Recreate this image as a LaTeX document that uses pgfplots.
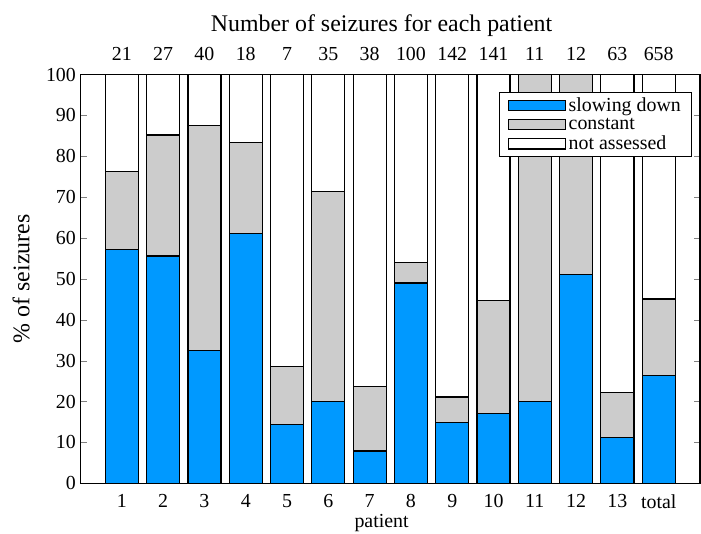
\documentclass[border=0pt]{standalone}
\usepackage{pgfplots}
\pgfplotsset{compat=1.18}
\usepackage{pgfplotstable}
\usepackage{fontspec}
\setmainfont{Liberation Serif}
\definecolor{cblue}{RGB}{0,153,255}
\definecolor{cgray}{RGB}{204,204,204}

\pgfplotstableread{
x slow const na
1  57.1 19.1 23.8
2  55.6 29.6 14.8
3  32.5 55.0 12.5
4  61.1 22.2 16.7
5  14.3 14.3 71.4
6  20.0 51.4 28.6
7  7.9  15.8 76.3
8  49.0 5.0  46.0
9  14.8 6.3  78.9
10 17.0 27.7 55.3
11 20.0 80.0 0.0
12 51.0 49.0 0.0
13 11.1 11.1 77.8
14 26.4 18.7 54.9
}\data

\begin{document}
\begin{tikzpicture}
\path[use as bounding box] (-60.75pt,-38.25pt) rectangle (468pt,364.5pt);
\begin{axis}[
  at={(0,0)}, anchor=south west,
  scale only axis, width=467.25pt, height=308.25pt,
  xmin=0, xmax=15, ymin=0, ymax=100,
  ybar stacked, bar width=0.8,
  xtick={1,...,14},
  xticklabels={1,2,3,4,5,6,7,8,9,10,11,12,13,total},
  ytick={0,10,...,100},
  ytick pos=both, yticklabel pos=left,
  x tick style={draw=none},
  major tick length=4.5pt,
  tick align=inside,
  axis line style={line width=0.8pt},
  /pgf/number format/assume math mode=true,
  tick label style={font=\fontsize{15}{17}\selectfont},
  xticklabel style={yshift=-5pt},
  xlabel={patient},
  ylabel={\% of seizures},
  xlabel style={font=\fontsize{15}{17}\selectfont, at={(axis description cs:0.486,-0.097)}, anchor=center},
  ylabel style={font=\fontsize{18}{20}\selectfont, at={(axis description cs:-0.096,0.5)}, anchor=center},
  legend style={at={(rel axis cs:0.987,0.958)}, anchor=north east, draw=black, line width=0.8pt,
    font=\fontsize{15}{16}\selectfont, row sep=-0.5pt, inner xsep=6pt, inner ysep=2pt},
  legend cell align=left,
  legend image code/.code={\draw[#1, line width=0.9pt] (0pt,-4pt) rectangle (43pt,4pt);},
  every axis plot/.append style={draw=black, line width=0.9pt},
]
\addplot[fill=cblue] table[x=x,y=slow]{\data};
\addplot[fill=cgray] table[x=x,y=const]{\data};
\addplot[fill=white] table[x=x,y=na]{\data};
\legend{slowing down, constant, not assessed}
\end{axis}
\begin{axis}[
  at={(0,0)}, anchor=south west,
  scale only axis, width=467.25pt, height=308.25pt,
  xmin=0, xmax=15, ymin=0, ymax=100,
  xtick={1,...,14},
  xticklabels={21,27,40,18,7,35,38,100,142,141,11,12,63,658},
  xticklabel pos=right,
  ytick=\empty,
  x tick style={draw=none},
  axis line style={draw=none},
  /pgf/number format/assume math mode=true,
  tick label style={font=\fontsize{15}{17}\selectfont},
  xticklabel style={yshift=7pt},
  title={Number of seizures for each patient},
  title style={font=\fontsize{18}{20}\selectfont, at={(axis description cs:0.486,1.10)}, anchor=center},
]
\addplot[draw=none] coordinates {(1,0)};
\end{axis}
\end{tikzpicture}
\end{document}
